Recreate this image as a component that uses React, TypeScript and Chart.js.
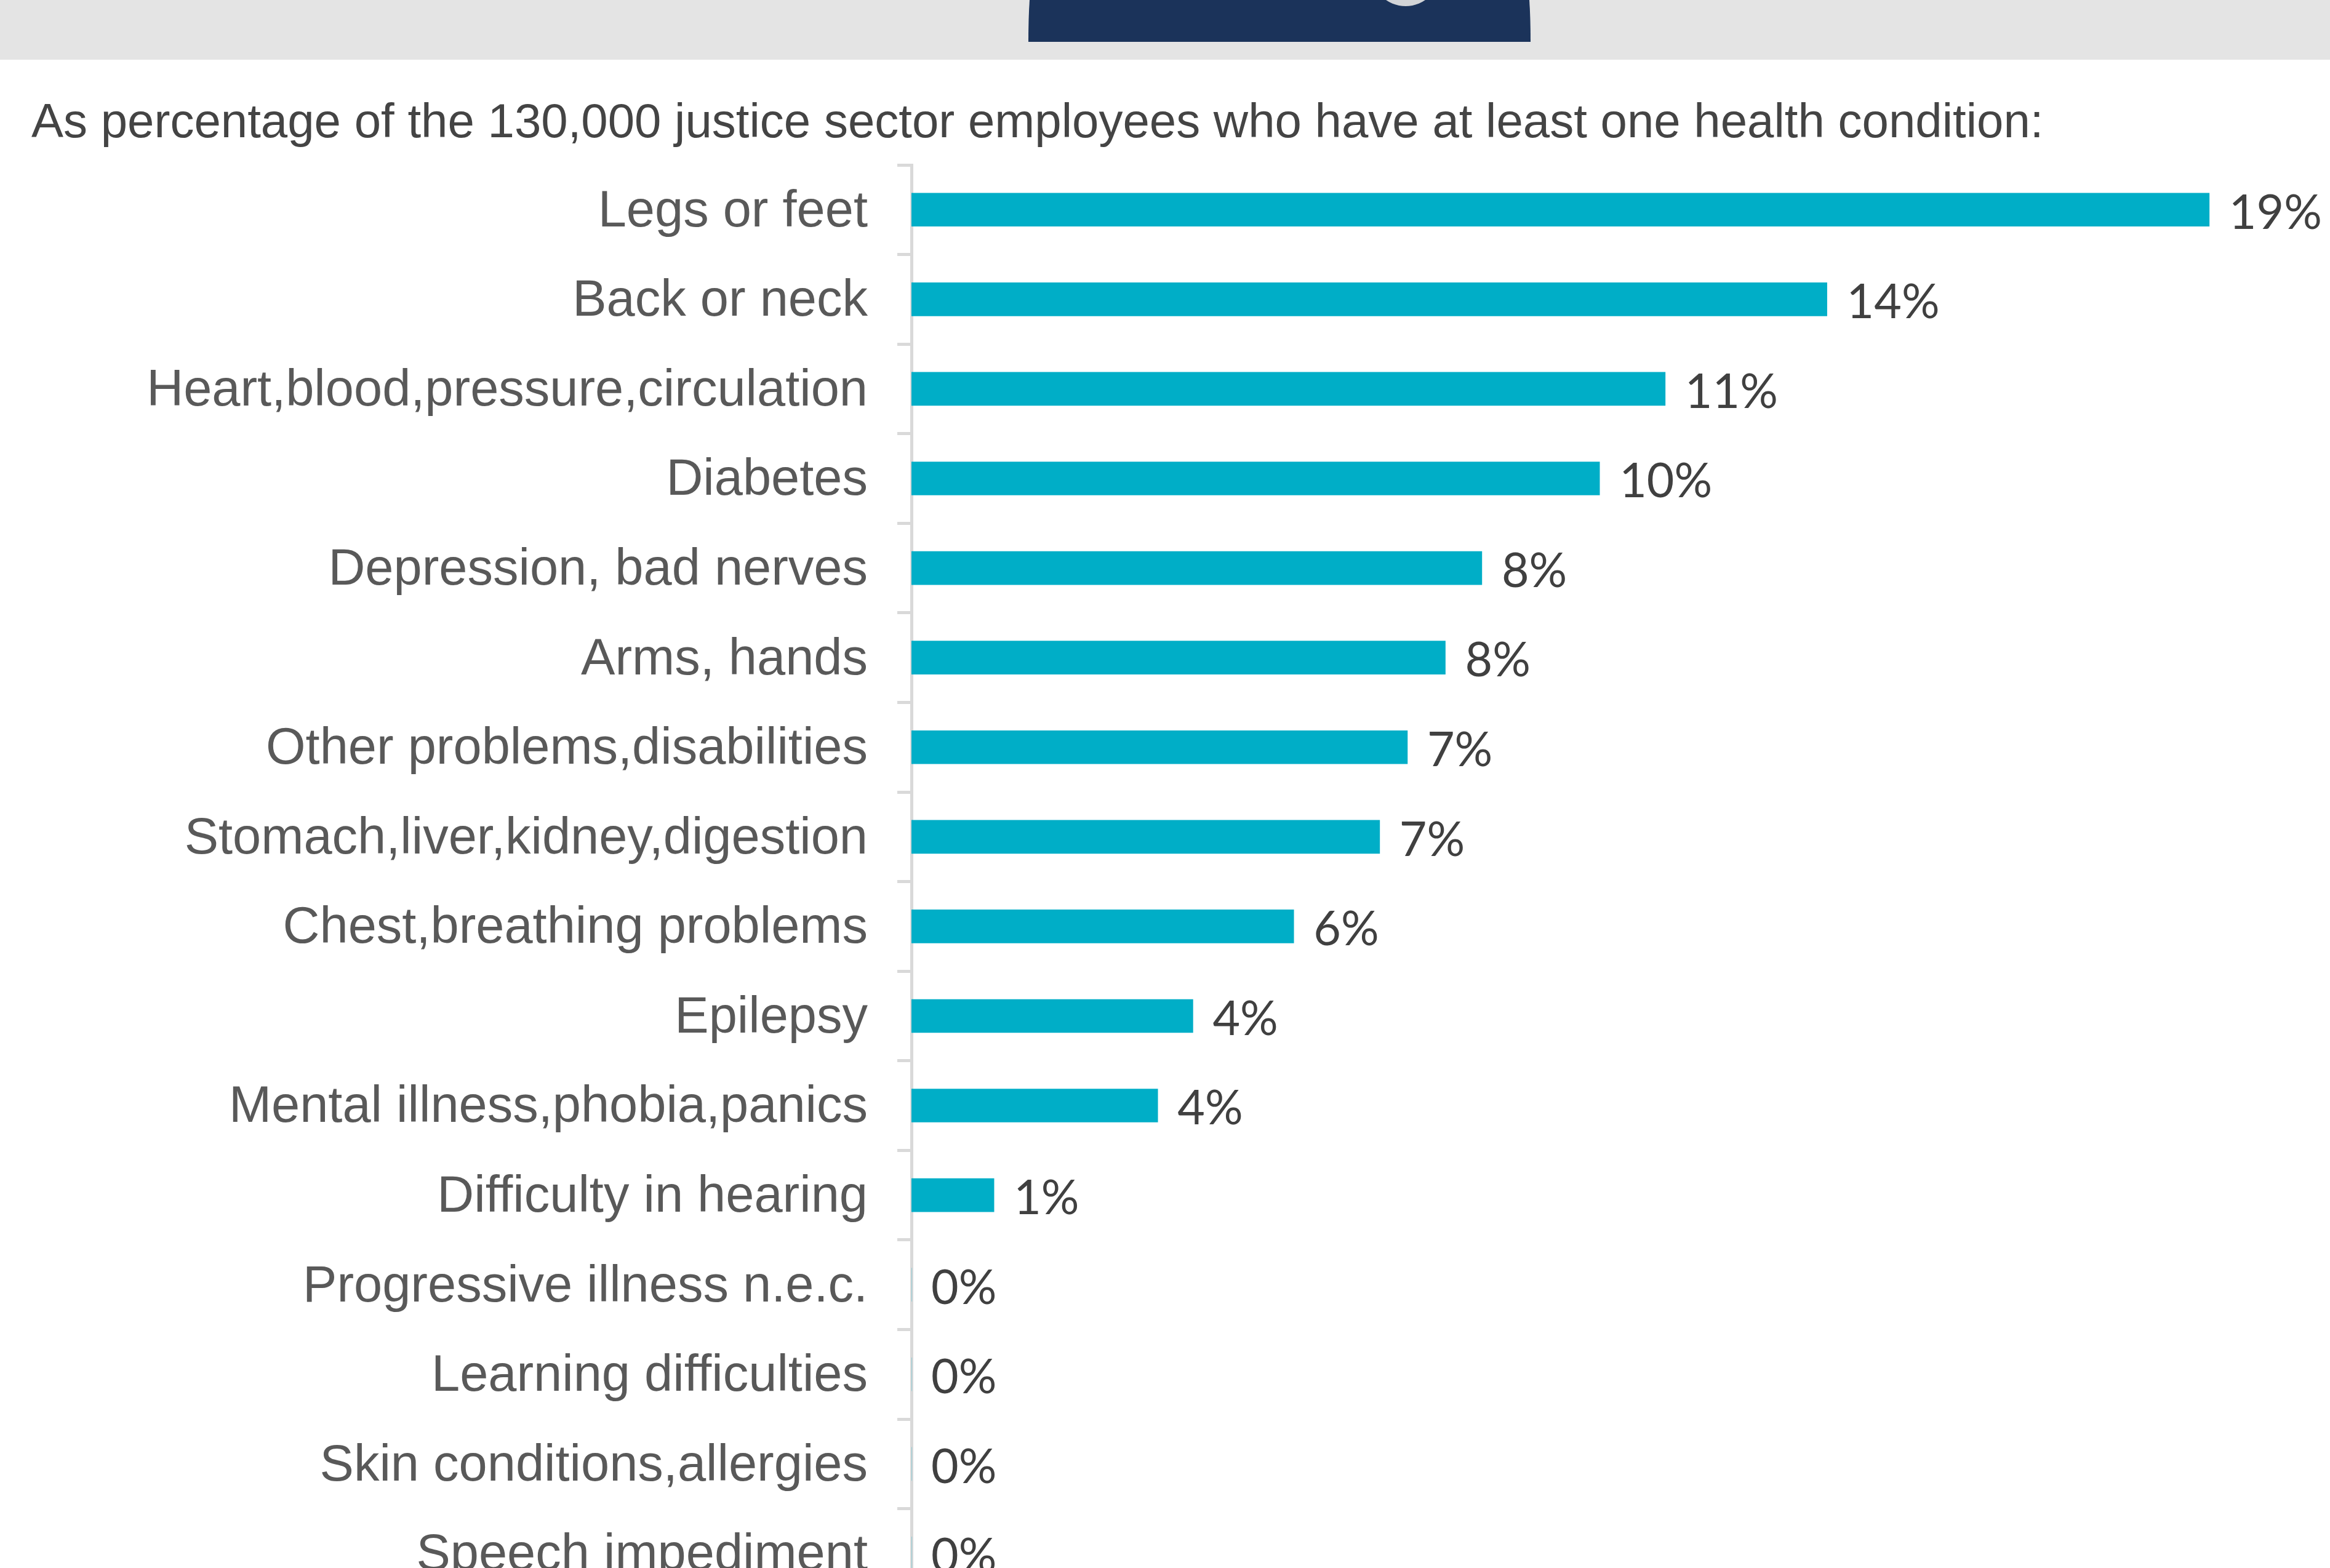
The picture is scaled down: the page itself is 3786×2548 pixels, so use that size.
import React, { useEffect, useRef } from "react";
import { Chart, registerables } from "chart.js";

Chart.register(...registerables);

const TITLE = "As percentage of the 130,000 justice sector employees who have at least one health condition:";
const categories = [
  "Legs or feet", "Back or neck", "Heart,blood,pressure,circulation", "Diabetes",
  "Depression, bad nerves", "Arms, hands", "Other problems,disabilities",
  "Stomach,liver,kidney,digestion", "Chest,breathing problems", "Epilepsy",
  "Mental illness,phobia,panics", "Difficulty in hearing", "Progressive illness n.e.c.",
  "Learning difficulties", "Skin conditions,allergies", "Speech impediment",
];
const values = [19.18, 13.53, 11.14, 10.17, 8.43, 7.89, 7.33, 6.92, 5.65, 4.16, 3.64, 1.22, 0, 0, 0, 0];
const valueLabels = ["19%", "14%", "11%", "10%", "8%", "8%", "7%", "7%", "6%", "4%", "4%", "1%", "0%", "0%", "0%", "0%"];

const W = 3786, H = 2548, TOP = 268, STEP = 145.5, LABEL_OVERHANG = 99;

const header = {
  id: "header",
  beforeDraw(c: any) {
    const g = c.ctx;
    g.save();
    g.fillStyle = "#E4E4E4";
    g.fillRect(0, 0, W, 97);
    g.fillStyle = "#1B335A";
    g.beginPath();
    g.moveTo(1673, 0);
    g.quadraticCurveTo(1671, 30, 1671, 68);
    g.lineTo(2487, 68);
    g.quadraticCurveTo(2487, 30, 2485, 0);
    g.closePath();
    g.fill();
    g.fillStyle = "#D2D4D7";
    g.beginPath();
    g.arc(2284, -46, 56, 0, Math.PI * 2);
    g.fill();
    g.restore();
  },
};

const dataLabels = {
  id: "valueLabels",
  afterDatasetsDraw(c: any) {
    const g = c.ctx;
    g.save();
    g.fillStyle = "#404040";
    g.font = "77px Lato";
    g.textBaseline = "middle";
    c.getDatasetMeta(0).data.forEach((bar: any, i: number) => {
      g.fillText(valueLabels[i], bar.x + 32, bar.y + 6);
    });
    g.restore();
  },
};

export default function App() {
  const ref = useRef<HTMLCanvasElement>(null);
  useEffect(() => {
    document.body.style.margin = "0";
    document.body.style.overflow = "hidden";
    const chart = new Chart(ref.current!, {
      type: "bar",
      data: {
        labels: categories,
        datasets: [{ data: values, backgroundColor: "#00AEC7", barThickness: 54 }],
      },
      plugins: [header, dataLabels],
      options: {
        indexAxis: "y",
        animation: false,
        responsive: false,
        maintainAspectRatio: false,
        layout: { padding: { left: 51, right: 106, top: 0, bottom: 0 } },
        plugins: {
          legend: { display: false },
          tooltip: { enabled: false },
          title: {
            display: true,
            text: TITLE,
            align: "start",
            color: "#444444",
            font: { family: "Liberation Sans", size: 78, weight: "normal", lineHeight: 1.2 },
            padding: { top: 155, bottom: 19.4 },
          },
        },
        scales: {
          x: { display: false, min: 0, max: 20 },
          y: {
            z: 1,
            afterFit(s: any) { s.width = 1481 - 51; },
            border: { color: "#D9D9D9", width: 5 },
            grid: { offset: true, drawOnChartArea: false, drawTicks: true, tickLength: 23, tickColor: "#D9D9D9", tickWidth: 5 },
            ticks: {
              autoSkip: false,
              color: "#595959",
              padding: 48,
              labelOffset: 4,
              font: { family: "Liberation Sans", size: 83 },
            },
          },
        },
      },
    } as any);
    return () => chart.destroy();
  }, []);
  return (
    <div style={{ position: "absolute", left: 0, top: 0, width: W, height: H, overflow: "hidden", background: "#fff" }}>
      <canvas ref={ref} width={W} height={Math.round(TOP + STEP * categories.length + LABEL_OVERHANG)} style={{ display: "block" }} />
    </div>
  );
}
